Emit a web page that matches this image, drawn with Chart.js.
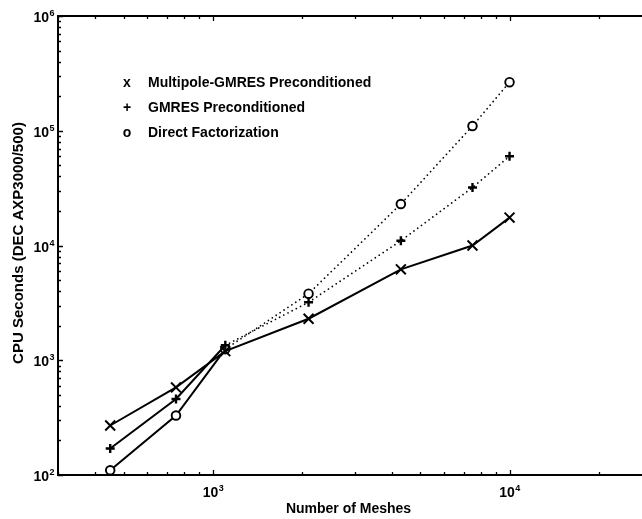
<!DOCTYPE html>
<html lang="en">
<head>
<meta charset="UTF-8">
<title>CPU Seconds vs Number of Meshes</title>
<script src="https://cdn.jsdelivr.net/npm/chart.js"></script>
<style>
  html, body { margin: 0; padding: 0; background: #fff; overflow: hidden; }
  #wrap { width: 660px; height: 519px; }
</style>
</head>
<body>
<div id="wrap"><canvas id="cpuChart" width="660" height="519"></canvas></div>
<script>
  // problem sizes and timings, log-log
  const meshes = [450, 750, 1100, 2100, 4300, 7500, 10000];
  const multipoleGmres = [270, 580, 1200, 2300, 6200, 10000, 17500];
  const gmresPrecond = [170, 460, 1350, 3200, 11000, 32000, 60000];
  const directFact = [110, 330, 1250, 3800, 23000, 110000, 265000];

  const seriesNames = ['Multipole-GMRES Preconditioned', 'GMRES Preconditioned', 'Direct Factorization'];
  const legendGlyphs = ['x', '+', 'o'];
  const xRange = [300, 30000];
  const yRange = [100, 1000000];
  const xTitle = 'Number of Meshes';
  const yTitle = 'CPU Seconds (DEC AXP3000/500)';

  const FONT = '"Liberation Sans", Arial, Helvetica, sans-serif';

  const toPoints = vals => meshes.map((m, i) => ({ x: m, y: vals[i] }));

  // past the third point the two older methods are drawn dotted
  const dotAfter = n => ({
    borderDash: c => c.p0DataIndex >= n ? [0.1, 4.6] : undefined,
    borderWidth: c => c.p0DataIndex >= n ? 1.7 : undefined
  });

  // every tick on a log range: decades plus 2..9 multiples
  function logTicks(lo, hi) {
    const out = [];
    for (let e = Math.floor(Math.log10(lo)); e <= Math.ceil(Math.log10(hi)); e++) {
      for (let m = 1; m <= 9; m++) {
        const v = m * Math.pow(10, e);
        if (v >= lo * 0.999 && v <= hi * 1.001) out.push({ v, e, major: m === 1 });
      }
    }
    return out;
  }

  // "10" with a raised exponent; align = 'right' or 'center'
  function powLabel(ctx, e, x, y, align) {
    ctx.font = 'bold 14px ' + FONT;
    const wb = ctx.measureText('10').width;
    ctx.font = 'bold 9px ' + FONT;
    const we = ctx.measureText(String(e)).width;
    const total = wb + we;
    const x0 = align === 'right' ? x - total : x - total / 2;
    ctx.textAlign = 'left';
    ctx.textBaseline = 'alphabetic';
    ctx.font = 'bold 14px ' + FONT;
    ctx.fillText('10', x0, y);
    ctx.font = 'bold 9px ' + FONT;
    ctx.fillText(String(e), x0 + wb + 0.5, y - 6);
  }

  const axesFrame = {
    id: 'axesFrame',
    afterDatasetsDraw(chart) {
      const { ctx, chartArea: a, scales: { x, y } } = chart;
      ctx.save();
      ctx.strokeStyle = '#000';
      ctx.fillStyle = '#000';
      ctx.lineWidth = 2;
      ctx.strokeRect(a.left, a.top, a.right - a.left, a.bottom - a.top);

      ctx.lineWidth = 1.3;
      ctx.beginPath();
      logTicks(xRange[0], xRange[1]).forEach(t => {
        const px = Math.round(x.getPixelForValue(t.v)) + 0.5;
        const len = t.major ? 5 : 3;
        ctx.moveTo(px, a.bottom); ctx.lineTo(px, a.bottom - len);
        ctx.moveTo(px, a.top); ctx.lineTo(px, a.top + len);
      });
      logTicks(yRange[0], yRange[1]).forEach(t => {
        const py = Math.round(y.getPixelForValue(t.v)) + 0.5;
        const len = t.major ? 5 : 3;
        ctx.moveTo(a.left, py); ctx.lineTo(a.left + len, py);
        ctx.moveTo(a.right, py); ctx.lineTo(a.right - len, py);
      });
      ctx.stroke();

      // tick labels
      logTicks(xRange[0], xRange[1]).filter(t => t.major).forEach(t => {
        powLabel(ctx, t.e, x.getPixelForValue(t.v), a.bottom + 22, 'center');
      });
      logTicks(yRange[0], yRange[1]).filter(t => t.major).forEach(t => {
        powLabel(ctx, t.e, a.left - 4, y.getPixelForValue(t.v) + 6, 'right');
      });

      // axis titles
      ctx.textAlign = 'center';
      ctx.textBaseline = 'middle';
      ctx.font = 'bold 14px ' + FONT;
      ctx.fillText(xTitle, (a.left + a.right) / 2 - 6, a.bottom + 34);
      ctx.save();
      ctx.font = 'bold 15px ' + FONT;
      ctx.translate(19, 243);
      ctx.rotate(-Math.PI / 2);
      ctx.fillText(yTitle, 0, 0);
      ctx.restore();

      // legend inside the axes
      ctx.font = 'bold 14px ' + FONT;
      ctx.textBaseline = 'middle';
      seriesNames.forEach((name, i) => {
        const ly = a.top + 67 + i * 25;
        ctx.textAlign = 'center';
        ctx.fillText(legendGlyphs[i], a.left + 69, ly);
        ctx.textAlign = 'left';
        ctx.fillText(name, a.left + 90, ly);
      });
      ctx.restore();
    }
  };

  new Chart(document.getElementById('cpuChart'), {
    type: 'line',
    data: {
      datasets: [
        {
          label: seriesNames[0],
          data: toPoints(multipoleGmres),
          borderColor: '#000',
          borderWidth: 2,
          pointStyle: 'crossRot',
          pointRadius: 7,
          pointBorderWidth: 2,
          pointBorderColor: '#000',
          tension: 0
        },
        {
          label: seriesNames[1],
          data: toPoints(gmresPrecond),
          borderColor: '#000',
          borderWidth: 2,
          borderCapStyle: 'round',
          segment: dotAfter(2),
          pointStyle: 'cross',
          pointRadius: 4.5,
          pointBorderWidth: 2.4,
          pointBorderColor: '#000',
          tension: 0
        },
        {
          label: seriesNames[2],
          data: toPoints(directFact),
          borderColor: '#000',
          borderWidth: 2,
          borderCapStyle: 'round',
          segment: dotAfter(2),
          pointStyle: 'circle',
          pointRadius: 4.3,
          pointBorderWidth: 1.9,
          pointBorderColor: '#000',
          pointBackgroundColor: '#fff',
          tension: 0
        }
      ]
    },
    options: {
      responsive: false,
      animation: false,
      layout: { padding: { left: 58, top: 16, right: 6, bottom: 44 } },
      plugins: { legend: { display: false }, tooltip: { enabled: false } },
      scales: {
        x: { type: 'logarithmic', min: xRange[0], max: xRange[1], display: false },
        y: { type: 'logarithmic', min: yRange[0], max: yRange[1], display: false }
      }
    },
    plugins: [axesFrame]
  });
</script>
</body>
</html>
